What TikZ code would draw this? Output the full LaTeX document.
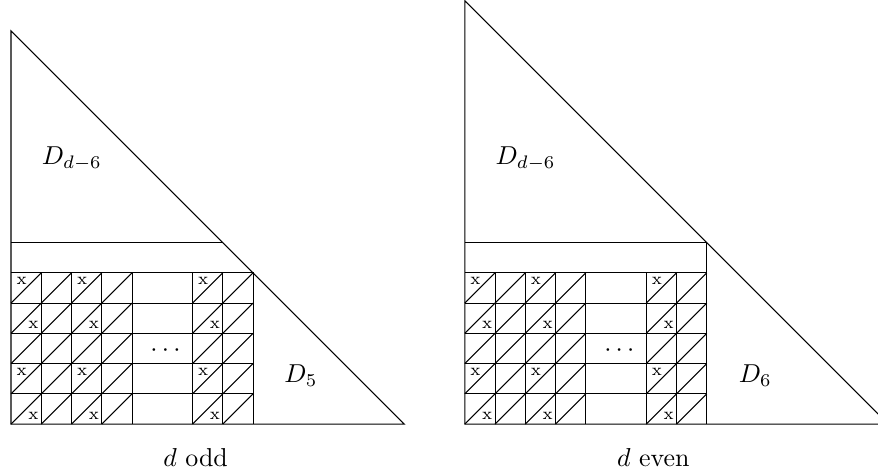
\documentclass[tikz,border=0pt]{standalone}
\begin{document}
\begin{tikzpicture}[x=11.68pt,y=11.68pt,line width=0.4pt,
  xmark/.style={font=\fontsize{6.5}{7}\selectfont,inner sep=0pt},
  lab/.style={inner sep=0pt},
  cells/.pic={
    \foreach \y in {1,2,3,4} \draw (0,\y) -- (8,\y);
    \foreach \x in {1,2,3,4,6,7} \draw (\x,0) -- (\x,5);
    \foreach \x in {0,1,2,3,6,7} \foreach \y in {0,...,4} \draw (\x,\y) -- (\x+1,\y+1);
    \foreach \x in {0,2,6} {
      \node[xmark] (ul4-\x) at (\x+0.35,4.74) {x};
      \node[xmark] (lr3-\x) at (\x+0.74,3.28) {x};
      \node[xmark] (ul1-\x) at (\x+0.35,1.74) {x};
      \node[xmark] (lr0-\x) at (\x+0.74,0.28) {x};
    }
    \node[lab,anchor=base] (dots) at (5.11,2.24) {$\cdots$};
  }]
\useasboundingbox (-0.364,-1.686) rectangle (28.66,14.02);
\clip (-0.364,-1.686) rectangle (28.66,14.02);
% left: d odd
\draw (0,0) -- (13,0) -- (0,13) -- cycle;
\draw (0,6) -- (7,6);
\draw (0,5) -- (8,5) -- (8,0);
\pic (L) at (0,0) {cells};
\node[lab,anchor=base west] (Ldd) at (1.0,8.59) {$D_{d-6}$};
\node[lab,anchor=base west] (L5) at (9.02,1.38) {$D_5$};
\node[lab,anchor=base] (Lcap) at (6.1,-1.41) {$d$ odd};
% right: d even
\begin{scope}[xshift=15*11.68pt]
\draw (0,0) -- (14,0) -- (0,14) -- cycle;
\draw (0,6) -- (8,6) -- (8,0);
\draw (0,5) -- (8,5);
\pic (R) at (0,0) {cells};
\node[lab,anchor=base west] (Rdd) at (1.0,8.59) {$D_{d-6}$};
\node[lab,anchor=base west] (R6) at (9.04,1.38) {$D_6$};
\node[lab,anchor=base] (Rcap) at (6.23,-1.41) {$d$ even};
\end{scope}
\end{tikzpicture}
\end{document}
